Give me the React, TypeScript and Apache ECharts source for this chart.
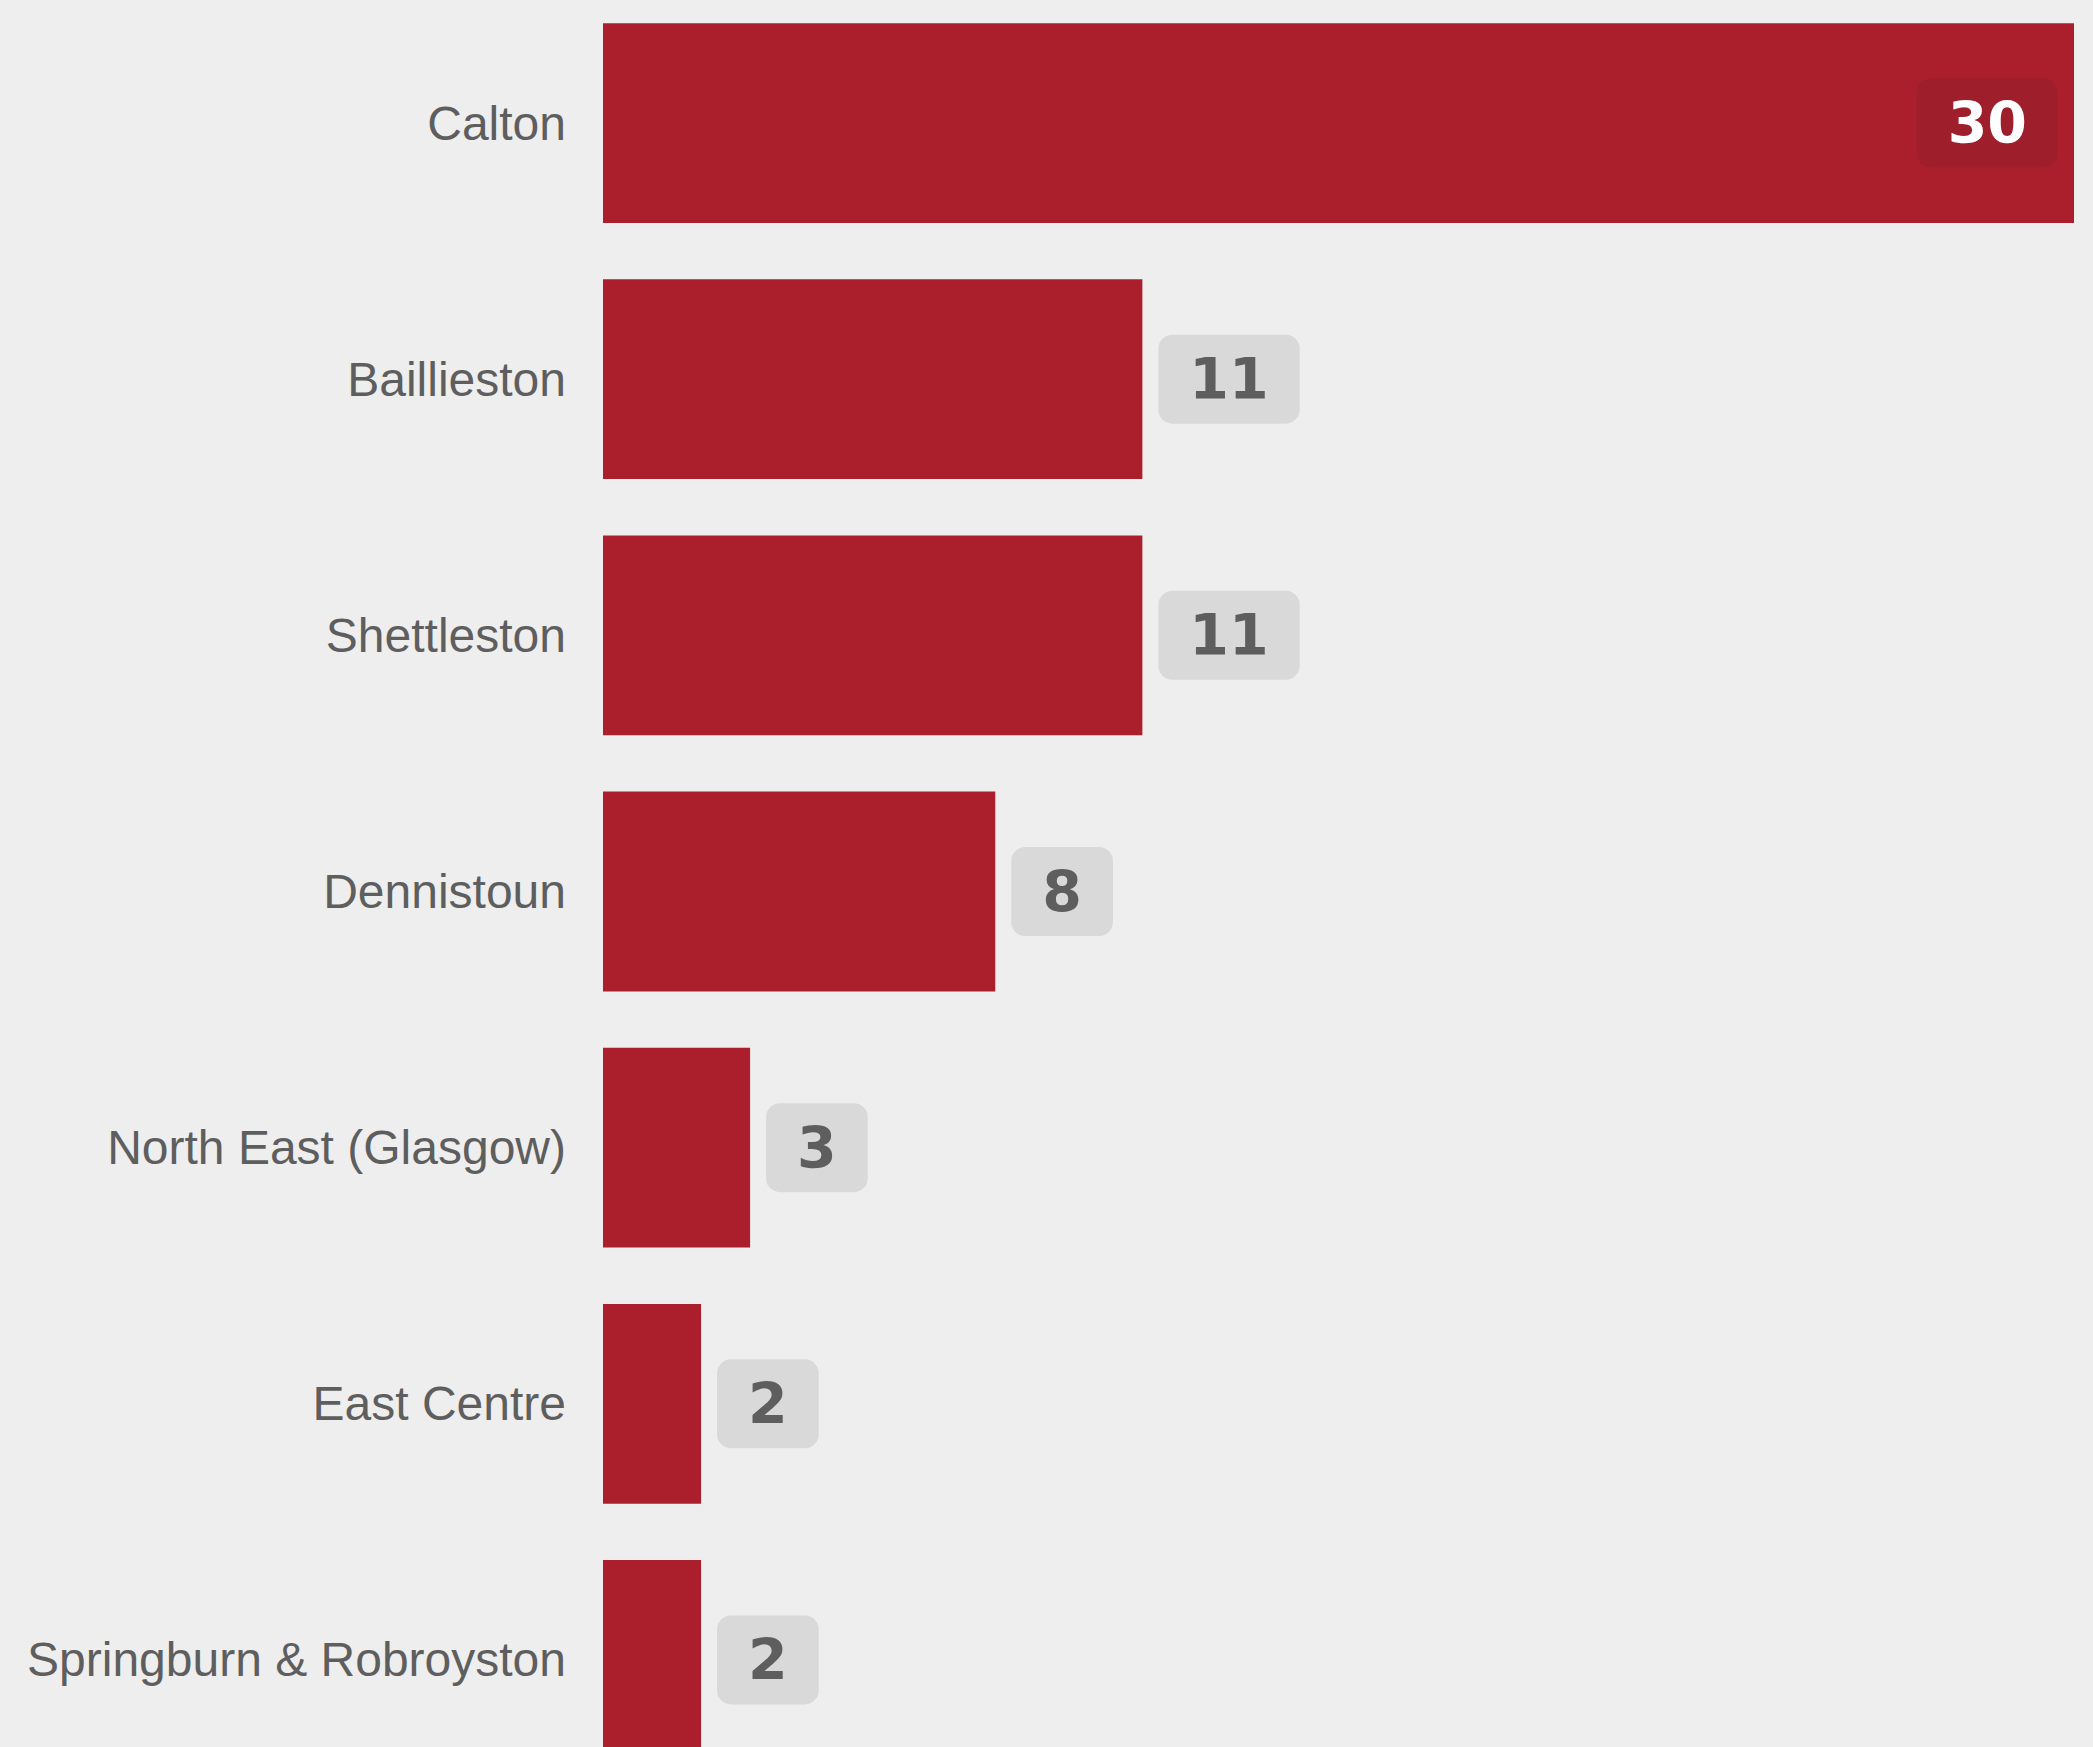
import React, { useEffect, useRef } from "react";
import * as echarts from "echarts";

const categories = [
  "Calton",
  "Baillieston",
  "Shettleston",
  "Dennistoun",
  "North East (Glasgow)",
  "East Centre",
  "Springburn & Robroyston",
];
const values = [30, 11, 11, 8, 3, 2, 2];

const BAR_COLOR = "#ab1f2d";
const TEXT_GREY = "#5e5e5e";

export default function App() {
  const ref = useRef<HTMLDivElement>(null);
  useEffect(() => {
    if (!ref.current) return;
    const chart = echarts.init(ref.current, null, { renderer: "svg" });
    const maxV = Math.max(...values);
    const baseLabel = {
      show: true,
      position: "right",
      distance: 16,
      fontFamily: "DejaVu Sans",
      fontWeight: "bold",
      fontSize: 57,
      lineHeight: 57,
      color: TEXT_GREY,
      backgroundColor: "#d9d9d9",
      borderRadius: 14,
      padding: [16, 31, 16, 31],
    };
    chart.setOption({
      animation: false,
      backgroundColor: "#eeeeee",
      grid: { left: 603, right: 19, top: 0, bottom: 0, containLabel: false },
      xAxis: { type: "value", min: 0, max: 30, show: false },
      yAxis: {
        type: "category",
        data: categories,
        inverse: true,
        axisLine: { show: false },
        axisTick: { show: false },
        splitLine: { show: false },
        axisLabel: {
          margin: 37,
          fontFamily: "Liberation Sans",
          fontSize: 48,
          color: TEXT_GREY,
        },
      },
      series: [
        {
          type: "bar",
          barCategoryGap: "22%",
          itemStyle: { color: BAR_COLOR },
          label: baseLabel,
          data: values.map((v) =>
            v === maxV
              ? {
                  value: v,
                  label: {
                    position: "insideRight",
                    distance: 16,
                    color: "#ffffff",
                    backgroundColor: "#9e1f2b",
                  },
                }
              : { value: v }
          ),
        },
      ],
    });
    return () => chart.dispose();
  }, []);
  return (
    <div
      style={{
        position: "absolute",
        left: 0,
        top: 0,
        width: 2093,
        height: 1747,
        overflow: "hidden",
        background: "#eeeeee",
      }}
    >
      <div
        ref={ref}
        style={{ position: "absolute", left: 0, top: -5, width: 2093, height: 1793 }}
      />
    </div>
  );
}
